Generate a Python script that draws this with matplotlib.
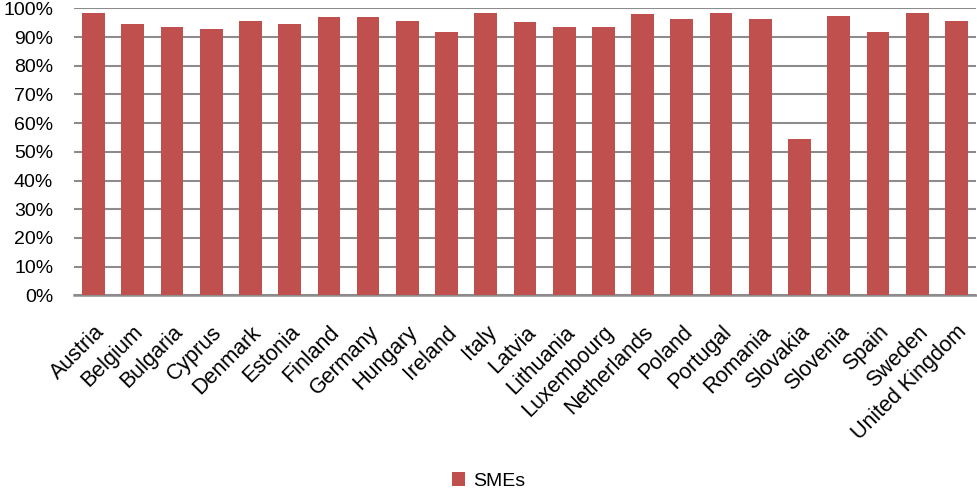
import numpy as np
import matplotlib.pyplot as plt
from matplotlib.ticker import PercentFormatter

plt.rcParams['font.family'] = ['Liberation Sans', 'DejaVu Sans']

# Countries and share of SMEs (%)
countries = ['Austria', 'Belgium', 'Bulgaria', 'Cyprus', 'Denmark', 'Estonia',
             'Finland', 'Germany', 'Hungary', 'Ireland', 'Italy', 'Latvia',
             'Lithuania', 'Luxembourg', 'Netherlands', 'Poland', 'Portugal',
             'Romania', 'Slovakia', 'Slovenia', 'Spain', 'Sweden', 'United Kingdom']
smes = [98.5, 94.5, 93.5, 92.8, 95.7, 94.5, 96.9, 96.9, 95.7, 91.7, 98.5, 95.1,
        93.5, 93.5, 97.9, 96.2, 98.5, 96.2, 54.5, 97.3, 91.7, 98.5, 95.7]

bar_color = '#C0504D'
grid_color = '#8C8C8C'

fig = plt.figure(figsize=(9.77, 4.95), dpi=100)
ax = fig.add_axes([0.0757, 0.4034, 0.9233, 0.5796])

x = np.arange(len(countries))
ax.bar(x, smes, width=0.58, color=bar_color, label='SMEs', zorder=3)

ax.set_xlim(-0.5, len(countries) - 0.5)
ax.set_ylim(0, 100)
ax.set_yticks(np.arange(0, 101, 10))
ax.yaxis.set_major_formatter(PercentFormatter(decimals=0))
ax.yaxis.grid(True, color=grid_color, linewidth=1.5, zorder=0)

ax.set_xticks(x)
ax.set_xticklabels(countries, rotation=45, ha='right', rotation_mode='anchor')
ax.tick_params(axis='y', length=0, labelsize=14, pad=15)
ax.tick_params(axis='x', length=0, labelsize=15.5, pad=19)

for side in ['left', 'right', 'top']:
    ax.spines[side].set_visible(False)
ax.spines['bottom'].set_color(grid_color)
ax.spines['bottom'].set_linewidth(1.8)

fig.legend(loc='lower center', bbox_to_anchor=(0.5, -0.025), frameon=False,
           fontsize=14, handlelength=0.7, handleheight=0.7, handletextpad=0.4)

plt.savefig('out.png', dpi=100)
